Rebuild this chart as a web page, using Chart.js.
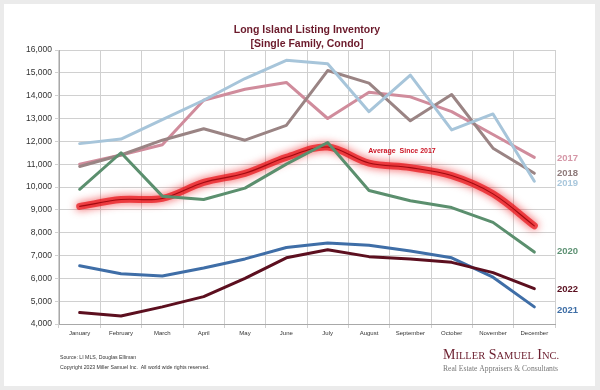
<!DOCTYPE html>
<html>
<head>
<meta charset="utf-8">
<script src="https://cdn.jsdelivr.net/npm/chart.js@4/dist/chart.umd.min.js"></script>
<style>
  html, body { margin: 0; padding: 0; background: #ebebeb; }
  #wrap { width: 600px; height: 390px; }
</style>
</head>
<body>
<div id="wrap"><canvas id="_canvasc" width="600" height="390"></canvas></div>
<script>
	// ******************************************************** DATA

	var months = ["January","February","March","April","May","June","July","August","September","October","November","December"];

	var y2017 = [11000,11400,11850,13800,14280,14580,13000,14150,13950,13300,12300,11300];
	var y2018 = [10900,11400,12050,12550,12050,12700,15100,14550,12900,14050,11700,10600];
	var y2019 = [11900,12100,12950,13800,14750,15550,15400,13300,14900,12500,13200,10250];
	var y2020 = [9900,11500,9600,9450,9950,11000,11950,9850,9400,9100,8450,7150];
	var y2021 = [6550,6200,6100,6450,6850,7350,7550,7450,7200,6900,6050,4750];
	var y2022 = [4500,4350,4750,5200,6000,6900,7250,6950,6850,6700,6250,5550];
	var avgSince2017 = [9150,9450,9500,10200,10600,11300,11750,11050,10850,10500,9700,8300];

	var yTicks = [4000,5000,6000,7000,8000,9000,10000,11000,12000,13000,14000,15000,16000];

	var titleLines = ["Long Island Listing Inventory", "[Single Family, Condo]"];

	// ******************************************************** HELPERS

	function line(label, data, color, width, extra) {
		var ds = {
			label: label, data: data,
			borderColor: color, backgroundColor: color,
			borderWidth: width, pointRadius: 0, tension: 0, fill: false,
			borderJoinStyle: 'round', borderCapStyle: 'round'
		};
		for (var k in extra) ds[k] = extra[k];
		return ds;
	}

	// frame, titles, end labels, footer
	var decor = {
		id: 'decor',
		beforeDraw: function (chart) {
			var c = chart.ctx;
			c.save();
			c.fillStyle = '#ebebeb';
			c.fillRect(0, 0, chart.width, chart.height);
			c.fillStyle = '#ffffff';
			c.fillRect(4, 4, 591, 382);
			c.restore();
		},
		afterDraw: function (chart) {
			var c = chart.ctx, ys = chart.scales.y, ca = chart.chartArea;
			var mid = (ca.left + ca.right) / 2;
			c.save();
			c.textAlign = 'center';
			c.textBaseline = 'middle';
			c.fillStyle = '#6b1a2b';
			c.font = 'bold 10.5px "Liberation Sans", Arial, sans-serif';
			c.fillText(titleLines[0], mid, 30);
			c.fillText(titleLines[1], mid, 44);

			// average label
			c.fillStyle = '#cc1424';
			c.font = 'bold 7px "Liberation Sans", Arial, sans-serif';
			c.fillText('Average  Since 2017', 402, 151);

			// series labels at right
			c.textAlign = 'left';
			c.font = 'bold 9.5px "Liberation Sans", Arial, sans-serif';
			var ends = [
				['2017', y2017, '#d597a7', 1],
				['2018', y2018, '#8f7b7b', 0],
				['2019', y2019, '#a9c7dc', 2],
				['2020', y2020, '#5e9274', -1],
				['2022', y2022, '#5a1020', 1],
				['2021', y2021, '#3e6ea6', 3]
			];
			ends.forEach(function (e) {
				c.fillStyle = e[2];
				c.fillText(e[0], ca.right + 2, ys.getPixelForValue(e[1][e[1].length - 1]) + e[3]);
			});

			// footer
			c.fillStyle = '#333';
			c.font = '5.2px "Liberation Sans", Arial, sans-serif';
			c.fillText('Source: LI MLS, Douglas Elliman', 60, 358);
			c.fillText('Copyright 2023 Miller Samuel Inc.  All world wide rights reserved.', 60, 367.5);

			// logo
			c.fillStyle = '#6b1e2e';
			c.textBaseline = 'alphabetic';
			var parts = [['M', 14], ['ILLER', 10.5], [' S', 14], ['AMUEL', 10.5], [' I', 14], ['NC.', 10.5]];
			var x = 443;
			parts.forEach(function (p) {
				c.font = p[1] + 'px "Liberation Serif", "Times New Roman", serif';
				c.fillText(p[0], x, 359);
				x += c.measureText(p[0]).width;
			});
			c.fillStyle = '#777';
			var tag = 'Real Estate Appraisers & Consultants';
			c.font = '10px "Liberation Serif", "Times New Roman", serif';
			var sz = 10 * 115 / c.measureText(tag).width;
			c.font = sz.toFixed(2) + 'px "Liberation Serif", "Times New Roman", serif';
			c.fillText(tag, 443, 371);
			c.restore();
		},
		beforeDatasetDraw: function (chart, args) {
			var ds = chart.data.datasets[args.index];
			if (ds.glow) {
				chart.ctx.save();
				chart.ctx.shadowColor = 'rgba(235,15,20,1)';
				chart.ctx.shadowBlur = 9;
			}
		},
		afterDatasetDraw: function (chart, args) {
			if (chart.data.datasets[args.index].glow) chart.ctx.restore();
		}
	};

	// ******************************************************** CHART

	var config = {
		type: 'line',
		data: {
			labels: months,
			datasets: [
				line('2020', y2020, '#5b8f6e', 3),
				line('Average core', avgSince2017, '#a00a10', 1.1, { tension: 0.35 }),
				line('Average Since 2017', avgSince2017, 'rgba(232,20,25,0.72)', 7, { tension: 0.35, glow: true }),
				line('2019', y2019, '#a7c5da', 3),
				line('2018', y2018, '#9a8484', 3),
				line('2017', y2017, '#d08c9c', 3),
				line('2022', y2022, '#5c0f1f', 3),
				line('2021', y2021, '#3f6ea7', 3)
			]
		},
		options: {
			responsive: false,
			animation: false,
			events: [],
			layout: { padding: { left: 10, right: 45, top: 50, bottom: 46 } },
			plugins: {
				legend: { display: false },
				title: { display: false },
				tooltip: { enabled: false }
			},
			scales: {
				x: {
					offset: true,
					grid: { offset: true, color: '#d0d0d0', tickLength: 4, drawTicks: true },
					border: { color: '#a8a8a8' },
					ticks: { color: '#333', font: { size: 6 }, padding: 2, maxRotation: 0, autoSkip: false },
					afterFit: function (s) { s.height = 20; }
				},
				y: {
					min: 4000, max: 16000,
					afterBuildTicks: function (s) { s.ticks = yTicks.map(function (v) { return { value: v }; }); },
					grid: { color: '#d0d0d0', tickLength: 4 },
					border: { color: '#a8a8a8' },
					ticks: {
						color: '#333', font: { size: 8.5 }, padding: 3,
						callback: function (v) { return v.toLocaleString('en-US'); }
					},
					afterFit: function (s) { s.width = 49; }
				}
			}
		},
		plugins: [decor]
	};

	Chart.defaults.font.family = '"Liberation Sans", Arial, sans-serif';

	var _ctxc = document.getElementById("_canvasc").getContext("2d");
	window.myLine = new Chart(_ctxc, config);
</script>
</body>
</html>
